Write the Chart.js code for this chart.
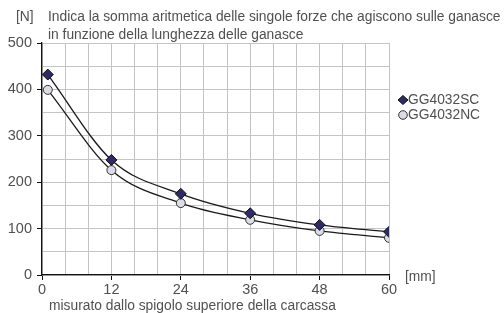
<!DOCTYPE html>
<html lang="it">
<head>
<meta charset="UTF-8">
<title>Forza ganasce</title>
<style>
  html, body { margin: 0; padding: 0; background: #fff; }
  #wrap { position: relative; width: 504px; height: 313px; }
</style>
</head>
<body>
<div id="wrap"><canvas id="chart" width="504" height="313"></canvas></div>

<script src="https://cdn.jsdelivr.net/npm/chart.js@4"></script>
<script>
// dati
const xPos = [1, 12, 24, 36, 48, 60];          // mm
const sc = [432, 248, 175, 133, 108, 93];       // GG4032SC
const nc = [399, 226, 155, 119, 95, 80];        // GG4032NC
const seriesNames = ['GG4032SC', 'GG4032NC'];
const xTicks = [0, 12, 24, 36, 48, 60];
const yTicks = [0, 100, 200, 300, 400, 500];

const txt = '#505050';
const font = '"Liberation Sans", Arial, sans-serif';

const mk = (arr) => arr.map((v, i) => ({ x: xPos[i], y: v }));

// testi e legenda disegnati a mano
const extras = {
  id: 'extras',
  afterDraw(chart) {
    const c = chart.ctx;
    const a = chart.chartArea;
    c.save();
    c.fillStyle = txt;
    c.font = '13.8px ' + font;
    c.textBaseline = 'middle';
    c.textAlign = 'left';
    c.fillText('[N]', 16, 17);
    c.fillText('Indica la somma aritmetica delle singole forze che agiscono sulle ganasce', 48, 17);
    c.fillText('in funzione della lunghezza delle ganasce', 48, 35);
    c.fillText('[mm]', a.right + 16, a.bottom + 2);
    c.fillText('misurato dallo spigolo superiore della carcassa', 49, 306);

    // legenda
    const ds = chart.data.datasets;
    ds.forEach((d, i) => {
      const y = 100 + i * 15;
      const x = 403;
      c.beginPath();
      if (d.pointStyle === 'rectRot') {
        c.moveTo(x, y - 4.5); c.lineTo(x + 5, y); c.lineTo(x, y + 4.5); c.lineTo(x - 5, y); c.closePath();
      } else {
        c.arc(x, y, 4.3, 0, Math.PI * 2);
      }
      c.fillStyle = d.pointBackgroundColor;
      c.fill();
      c.lineWidth = 1;
      c.strokeStyle = d.pointBorderColor;
      c.stroke();
      c.fillStyle = txt;
      c.fillText(d.label, x + 5, y);
    });
    c.restore();
  }
};

new Chart(document.getElementById('chart'), {
  type: 'line',
  data: {
    datasets: [
      {
        label: seriesNames[0],
        data: mk(sc),
        borderColor: '#1a1a1a',
        borderWidth: 1.3,
        cubicInterpolationMode: 'monotone',
        pointStyle: 'rectRot',
        pointRadius: 5.5,
        pointBackgroundColor: '#2d2a6a',
        pointBorderColor: '#111',
        pointBorderWidth: 1
      },
      {
        label: seriesNames[1],
        data: mk(nc),
        borderColor: '#1a1a1a',
        borderWidth: 1.3,
        cubicInterpolationMode: 'monotone',
        pointStyle: 'circle',
        pointRadius: 4.5,
        pointBackgroundColor: '#dcdce4',
        pointBorderColor: '#333',
        pointBorderWidth: 1
      }
    ]
  },
  options: {
    responsive: false,
    animation: false,
    layout: { padding: { left: 0, top: 43, right: 115, bottom: 0 } },
    plugins: { legend: { display: false }, tooltip: { enabled: false } },
    scales: {
      x: {
        type: 'linear',
        min: 0, max: 60,
        afterFit: (s) => { s.height = 38; },
        ticks: {
          stepSize: 4,
          autoSkip: false,
          maxRotation: 0,
          padding: 1,
          color: txt,
          font: { family: font, size: 14.5 },
          callback: (v) => xTicks.includes(v) ? String(v) : ''
        },
        grid: {
          color: '#c4c4c4',
          lineWidth: 1,
          tickLength: 5,
          tickColor: (ctx) => xTicks.includes(ctx.tick && ctx.tick.value) ? '#111' : 'rgba(0,0,0,0)'
        },
        border: { color: '#111', width: 1.3 }
      },
      y: {
        min: 0, max: 500,
        afterFit: (s) => { s.width = 42; },
        ticks: {
          stepSize: 50,
          padding: 5,
          color: txt,
          font: { family: font, size: 14.5 },
          callback: (v) => yTicks.includes(v) ? String(v) : ''
        },
        grid: {
          color: '#c4c4c4',
          lineWidth: 1,
          tickLength: 5,
          tickColor: (ctx) => yTicks.includes(ctx.tick && ctx.tick.value) ? '#111' : 'rgba(0,0,0,0)'
        },
        border: { color: '#111', width: 1.3 }
      }
    }
  },
  plugins: [extras]
});
</script>
</body>
</html>
